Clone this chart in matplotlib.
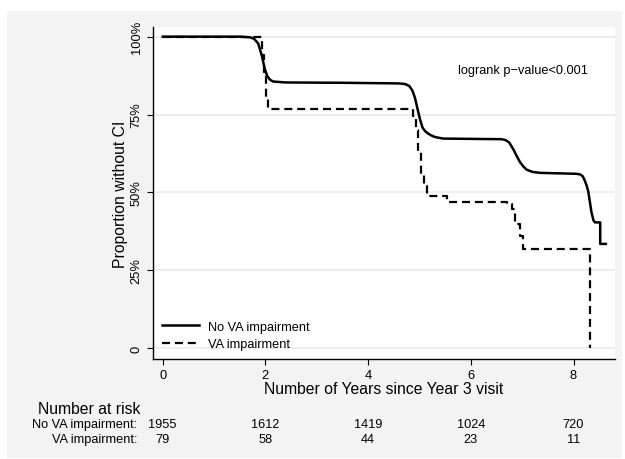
import numpy as np
import matplotlib
matplotlib.use('Agg')
import matplotlib.pyplot as plt
from matplotlib.patches import Rectangle
from matplotlib.transforms import blended_transform_factory

plt.rcParams['font.family'] = ['Liberation Sans', 'DejaVu Sans']

# Survival curve, no VA impairment
t_no = [0, 1.5, 1.7, 1.78, 1.86, 1.93, 1.99, 2.04, 2.09, 2.15, 2.4, 3.5, 4.6,
        4.72, 4.8, 4.86, 4.91, 4.96, 5.01, 5.06, 5.11, 5.16, 5.22, 5.3, 5.46,
        6.0, 6.6, 6.68, 6.75, 6.83, 6.9, 6.96, 7.03, 7.09, 7.2, 7.35, 8.05,
        8.13, 8.18, 8.22, 8.26, 8.29, 8.35, 8.39, 8.42, 8.52, 8.52, 8.63]
s_no = [1.0, 1.0, 0.998, 0.993, 0.978, 0.939, 0.895, 0.872, 0.862, 0.856,
        0.853, 0.852, 0.850, 0.848, 0.842, 0.828, 0.805, 0.77, 0.735, 0.708,
        0.697, 0.690, 0.684, 0.678, 0.673, 0.672, 0.671, 0.668, 0.660, 0.638,
        0.615, 0.597, 0.582, 0.573, 0.566, 0.563, 0.560, 0.558, 0.552, 0.538,
        0.52, 0.501, 0.436, 0.41, 0.404, 0.404, 0.335, 0.335]

# Survival curve, VA impairment (step function)
t_va = [0, 1.93, 1.97, 2.01, 2.06, 4.87, 4.93, 4.98, 5.03, 5.08, 5.14, 5.53,
        6.7, 6.8, 6.87, 6.95, 7.02, 8.32, 8.32]
s_va = [1.0, 0.94, 0.88, 0.80, 0.768, 0.746, 0.70, 0.63, 0.56, 0.52, 0.49,
        0.469, 0.463, 0.447, 0.40, 0.36, 0.319, 0.0, 0.0]

# Number at risk table
risk_times = [0, 2, 4, 6, 8]
risk_no = [1955, 1612, 1419, 1024, 720]
risk_va = [79, 58, 44, 23, 11]

y_ticks = [0, 0.25, 0.5, 0.75, 1.0]
y_ticklabels = ['0', '25%', '50%', '75%', '100%']
x_ticks = [0, 2, 4, 6, 8]

fig = plt.figure(figsize=(6.25, 4.6), dpi=100)
fig.patch.set_facecolor('white')

# grey background panel
W, H = 625.0, 460.0
fig.patches.append(Rectangle((7 / W, 1 - 459 / H), 615 / W, 447 / H,
                             transform=fig.transFigure, facecolor='#f3f3f3',
                             edgecolor='none', zorder=-10))

ax = fig.add_axes([152.7 / W, 1 - 360 / H, 462.3 / W, 332 / H])
ax.set_facecolor('white')

ax.plot(t_no, s_no, color='black', lw=1.8, label='No VA impairment',
        solid_joinstyle='round')
ax.plot(t_va, s_va, color='black', lw=1.6, drawstyle='steps-post',
        dashes=(3.6, 2.2), label='VA impairment')

ax.set_xlim(-0.195, 8.808)
ax.set_ylim(-0.0343, 1.031)

ax.set_yticks(y_ticks)
ax.set_yticklabels(y_ticklabels, rotation=90, va='center', fontsize=9.3)
ax.set_xticks(x_ticks)
ax.set_xticklabels([str(v) for v in x_ticks], fontsize=9.3)
ax.tick_params(direction='out', length=4.3, width=0.8, pad=3)

for y in y_ticks:
    ax.axhline(y, color='#e8e8e8', lw=1.1, zorder=0)

for s in ['top', 'right']:
    ax.spines[s].set_visible(False)
for s in ['left', 'bottom']:
    ax.spines[s].set_linewidth(1.0)

ax.set_ylabel('Proportion without CI', fontsize=11.3)
ax.yaxis.set_label_coords(-0.054, 0.5)
ax.set_xlabel('Number of Years since Year 3 visit', fontsize=11.3)
ax.xaxis.set_label_coords(0.5, -0.066)

ax.text(5.76, 0.893, 'logrank p\u2212value<0.001', fontsize=9.2, va='center',
        ha='left')

ax.legend(loc='lower left', bbox_to_anchor=(0.0, 0.0), frameon=False,
          fontsize=9.2, handlelength=2.9, handletextpad=0.7, labelspacing=0.4,
          borderaxespad=0.3)

# number at risk table
tr = blended_transform_factory(ax.transData, fig.transFigure)
fig.text(38.3 / W, 1 - 410 / H, 'Number at risk', fontsize=11.3, ha='left',
         va='center')
fig.text(137 / W, 1 - 425 / H, 'No VA impairment:', fontsize=9.2, ha='right',
         va='center')
fig.text(137 / W, 1 - 440 / H, 'VA impairment:', fontsize=9.2, ha='right',
         va='center')
for t, n1, n2 in zip(risk_times, risk_no, risk_va):
    ax.text(t, 1 - 425 / H, str(n1), transform=tr, fontsize=9.2, ha='center',
            va='center', clip_on=False)
    ax.text(t, 1 - 440 / H, str(n2), transform=tr, fontsize=9.2, ha='center',
            va='center', clip_on=False)

fig.savefig('out.png', dpi=100)
